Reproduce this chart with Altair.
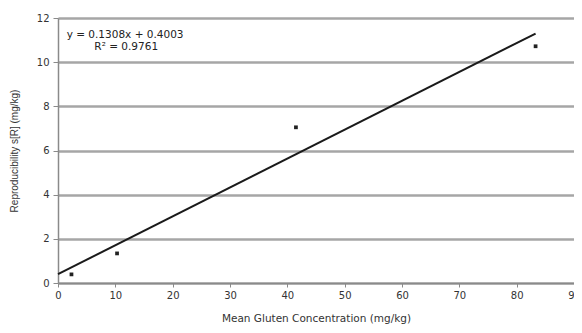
import altair as alt
import pandas as pd

# data
mean_conc = [2.35, 10.3, 41.5, 83.3]
repro_sr = [0.39, 1.34, 7.05, 10.72]
slope = 0.1308
intercept = 0.4003
x_ticks = [0, 10, 20, 30, 40, 50, 60, 70, 80, 90]
y_ticks = [0, 2, 4, 6, 8, 10, 12]
eq_lines = ["y = 0.1308x + 0.4003", "R\u00b2 = 0.9761"]

pts = pd.DataFrame({"x": mean_conc, "y": repro_sr})
trend = pd.DataFrame({"x": [0, max(mean_conc)]})
trend["y"] = slope * trend["x"] + intercept
ann = pd.DataFrame({"x": [11.7, 11.9], "y": [11.22, 10.68], "t": eq_lines})

WIDE = "DejaVu Sans"
NARROW = "Liberation Sans"
xs = alt.Scale(domain=[0, 90], nice=False)
ys = alt.Scale(domain=[0, 12], nice=False)

base_x = alt.X("x:Q", scale=xs, title="Mean Gluten Concentration (mg/kg)",
               axis=alt.Axis(values=x_ticks, grid=False, tickSize=4, labelPadding=3,
                             labelFlush=False,
                             titlePadding=13, domainColor="#8a8a8a", tickColor="#8a8a8a",
                             domainWidth=1.5, labelFont=WIDE, titleFont=WIDE,
                             labelFontSize=10, titleFontSize=10.5))
base_y = alt.Y("y:Q", scale=ys, title="Reproducibility s[R] (mg/kg)",
               axis=alt.Axis(values=y_ticks, grid=True, gridColor="#a6a6a6", gridWidth=2.5,
                             tickSize=5, labelPadding=4, titlePadding=17, labelFlush=False,
                             domainColor="#8a8a8a", tickColor="#8a8a8a", domainWidth=1.5,
                             labelFont=WIDE, titleFont=NARROW,
                             labelFontSize=10, titleFontSize=10))

points = alt.Chart(pts).mark_point(filled=True, shape="square", size=14, color="#222222",
                                   opacity=1).encode(x=base_x, y=base_y)
line = alt.Chart(trend).mark_line(color="#1a1a1a", strokeWidth=2).encode(x="x:Q", y="y:Q")
text = alt.Chart(ann).mark_text(font=WIDE, fontSize=10.5, color="#222222").encode(
    x="x:Q", y="y:Q", text="t:N")

chart = alt.layer(line, points, text).properties(
    width=516, height=265,
    autosize=alt.AutoSizeParams(type="none"),
    padding={"left": 50, "top": 10, "right": 0, "bottom": 42},
).configure_axis(
    labelColor="#333333", titleColor="#333333", titleFontWeight="normal",
).configure_view(stroke="#c8c8c8", strokeWidth=1)

chart.save("out.html", embed_options={"renderer": "svg", "actions": False})
